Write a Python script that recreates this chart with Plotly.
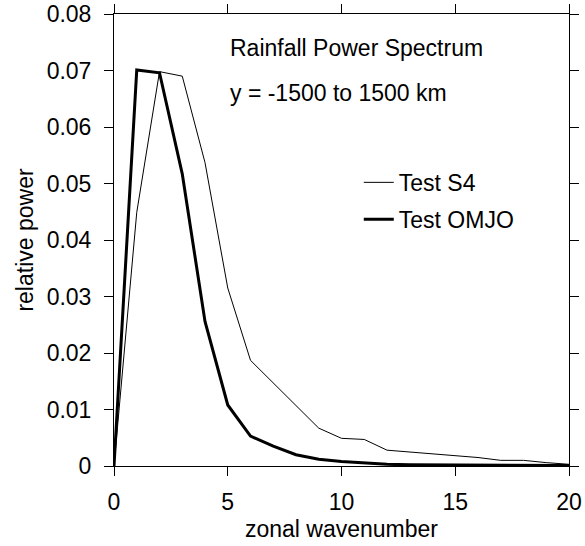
import plotly.graph_objects as go

wavenumber = list(range(0, 21))
s4 = [0.0, 0.0449, 0.0698, 0.0690, 0.0537, 0.0315, 0.0187, 0.0147, 0.0107, 0.0067,
      0.0049, 0.0047, 0.0028, 0.0025, 0.0022, 0.0019, 0.0015, 0.0010, 0.0010, 0.0006, 0.0003]
omjo = [0.0, 0.0701, 0.0696, 0.0517, 0.0256, 0.0108, 0.0053, 0.0035, 0.0020, 0.0012,
        0.0008, 0.0005, 0.0003, 0.0002, 0.0002, 0.0001, 0.0001, 0.0001, 0.0001, 0.0001, 0.0001]

FONT = "Liberation Sans, Arial, sans-serif"
FS = 23

fig = go.Figure()
fig.add_trace(go.Scatter(x=wavenumber, y=s4, mode="lines", name="Test S4", legendgroup="a",
                         line=dict(color="black", width=1)))
fig.add_trace(go.Scatter(x=wavenumber, y=omjo, mode="lines", name="Test OMJO", legendgroup="b",
                         line=dict(color="black", width=3)))

axis_common = dict(showline=True, linecolor="black", linewidth=1, mirror="ticks",
                   ticks="outside", ticklen=9, tickwidth=1, tickcolor="black",
                   showgrid=False, zeroline=False, automargin=False,
                   ticklabeloverflow="allow",
                   tickfont=dict(family=FONT, size=FS, color="black"))

fig.update_layout(
    width=585, height=546,
    margin=dict(l=114, r=16, t=14, b=80),
    paper_bgcolor="white", plot_bgcolor="white",
    font=dict(family=FONT, size=FS, color="black"),
    xaxis=dict(range=[0, 20], tickvals=[0, 5, 10, 15, 20], ticklabelstandoff=6,
               title=dict(text="zonal wavenumber", font=dict(size=FS), standoff=7),
               **axis_common),
    yaxis=dict(range=[0, 0.08], tickvals=[0, 0.01, 0.02, 0.03, 0.04, 0.05, 0.06, 0.07, 0.08],
               ticktext=["0", "0.01", "0.02", "0.03", "0.04", "0.05", "0.06", "0.07", "0.08"],
               ticklabelstandoff=8,
               title=dict(text="relative power", font=dict(size=FS), standoff=6),
               **axis_common),
    legend=dict(x=0.538, y=0.675, xanchor="left", yanchor="top",
                bgcolor="rgba(0,0,0,0)", font=dict(size=FS), tracegroupgap=4),
    showlegend=True,
)

fig.add_annotation(x=0.25, y=0.925, xref="paper", yref="paper", xanchor="left", yanchor="middle",
                   text="Rainfall Power Spectrum", showarrow=False, font=dict(size=FS))
fig.add_annotation(x=0.25, y=0.825, xref="paper", yref="paper", xanchor="left", yanchor="middle",
                   text="y = -1500 to 1500 km", showarrow=False, font=dict(size=FS))

fig.write_html("out.html")
